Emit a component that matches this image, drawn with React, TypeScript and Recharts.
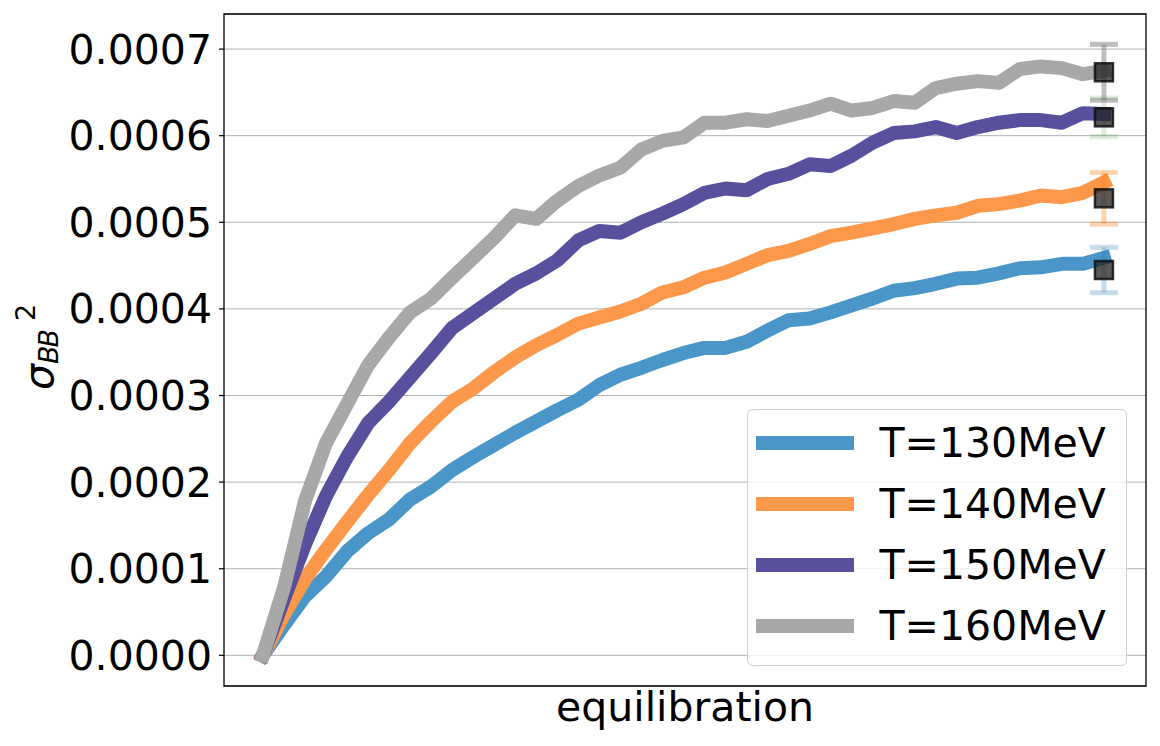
import React from 'react';
import {
  ComposedChart,
  Line,
  Scatter,
  ErrorBar,
  XAxis,
  YAxis,
  CartesianGrid,
  Legend,
  ReferenceArea,
  Label,
} from 'recharts';

// equilibration steps (arbitrary units, no ticks on the axis)
const steps = [
  0, 1, 2, 3, 4, 5, 6, 7, 8, 9, 10, 11, 12, 13, 14, 15, 16, 17, 18, 19, 20,
  21, 22, 23, 24, 25, 26, 27, 28, 29, 30, 31, 32, 33, 34, 35, 36, 37, 38, 39, 40,
];

// sigma_BB^2 in units of 1e-4
const t130 = [
  0, 0.35, 0.68, 0.91, 1.2, 1.41, 1.57, 1.8, 1.95, 2.14, 2.29, 2.43, 2.57, 2.7,
  2.83, 2.95, 3.12, 3.24, 3.32, 3.41, 3.49, 3.55, 3.55, 3.62, 3.75, 3.87, 3.89,
  3.96, 4.04, 4.12, 4.21, 4.24, 4.29, 4.35, 4.36, 4.41, 4.47, 4.48, 4.52, 4.52, 4.59,
];
const t140 = [
  0, 0.47, 0.88, 1.22, 1.54, 1.85, 2.14, 2.45, 2.7, 2.93, 3.08, 3.27, 3.44, 3.58,
  3.7, 3.83, 3.9, 3.97, 4.06, 4.19, 4.25, 4.36, 4.42, 4.52, 4.62, 4.67, 4.75,
  4.84, 4.88, 4.93, 4.98, 5.04, 5.08, 5.11, 5.19, 5.21, 5.25, 5.31, 5.29, 5.34, 5.46,
];
const t150 = [
  0, 0.65, 1.28, 1.84, 2.29, 2.68, 2.93, 3.21, 3.49, 3.78, 3.95, 4.12, 4.29, 4.41,
  4.56, 4.79, 4.9, 4.88, 5.0, 5.1, 5.21, 5.34, 5.39, 5.37, 5.5, 5.56, 5.67, 5.65,
  5.77, 5.92, 6.03, 6.05, 6.1, 6.03, 6.1, 6.15, 6.18, 6.18, 6.15, 6.26, 6.25,
];
const t160 = [
  0, 0.78, 1.78, 2.45, 2.9, 3.35, 3.67, 3.96, 4.12, 4.36, 4.59, 4.82, 5.08, 5.04,
  5.25, 5.42, 5.54, 5.63, 5.84, 5.94, 5.98, 6.15, 6.15, 6.19, 6.17, 6.23, 6.29,
  6.37, 6.29, 6.32, 6.4, 6.38, 6.55, 6.6, 6.63, 6.61, 6.77, 6.8, 6.78, 6.71, 6.75,
];

// final estimates with errors (units of 1e-4)
const finalMeans = [4.449, 5.277, 6.212, 6.732];
const finalErrors = [0.262, 0.298, 0.223, 0.323];

const seriesNames = ['T=130MeV', 'T=140MeV', 'T=150MeV', 'T=160MeV'];
const seriesKeys = ['t130', 't140', 't150', 't160'];
const lineColors = ['#4a96c9', '#fd974a', '#58509d', '#a8a8a8'];
const errorColors = ['#1f77b4', '#ff7f0e', '#2ca02c', '#7f7f7f'];
const errorOpacity = [0.25, 0.33, 0.17, 0.5];

const yTicks = [0, 0.0001, 0.0002, 0.0003, 0.0004, 0.0005, 0.0006, 0.0007];

const SCALE = 1e-4;
const FONT = '"DejaVu Sans", sans-serif';

const chartData = steps.map((s, i) => ({
  step: s,
  t130: t130[i] * SCALE,
  t140: t140[i] * SCALE,
  t150: t150[i] * SCALE,
  t160: t160[i] * SCALE,
}));

const finalData = finalMeans.map((m, i) => [
  { step: steps[steps.length - 1], y: m * SCALE, err: finalErrors[i] * SCALE },
]);

const xDomain = [-1.85, 42.0];
const yDomain = [-0.0000354, 0.0007405];

const SquareMarker = (props: any) => {
  const { cx, cy } = props;
  return (
    <rect
      x={cx - 9}
      y={cy - 9}
      width={18}
      height={18}
      fill="#222"
      fillOpacity={0.75}
      stroke="#111"
      strokeOpacity={0.85}
      strokeWidth={2.5}
    />
  );
};

const LegendBox = () => (
  <div
    style={{
      boxSizing: 'border-box',
      width: 380,
      height: 257,
      border: '1.5px solid #d0d0d0',
      borderRadius: 6,
      background: 'rgba(255,255,255,0.8)',
      paddingTop: 2,
      fontFamily: FONT,
    }}
  >
    {seriesNames.map((name, i) => (
      <div key={name} style={{ height: 61, display: 'flex', alignItems: 'center' }}>
        <div style={{ width: 98, height: 14, marginLeft: 7.5, background: lineColors[i] }} />
        <span style={{ marginLeft: 26, fontSize: 41, color: '#000', lineHeight: 'normal' }}>{name}</span>
      </div>
    ))}
  </div>
);

const YLabel = () => (
  <text
    x={53}
    y={390}
    transform="rotate(-90 53 390)"
    fontFamily={FONT}
    fill="#000"
    textAnchor="start"
  >
    <tspan fontSize={41} fontStyle="italic">σ</tspan>
    <tspan fontSize={27} fontStyle="italic" dy={5} letterSpacing={-2}>BB</tspan>
    <tspan fontSize={27} dy={-23} dx={10}>2</tspan>
  </text>
);

const XLabel = () => (
  <text x={685} y={721} textAnchor="middle" fontFamily={FONT} fontSize={41} fill="#000">
    equilibration
  </text>
);

export default function App() {
  return (
    <div style={{ position: 'absolute', left: 0, top: 0, width: 1160, height: 746, background: '#fff', fontFamily: FONT }}>
      <ComposedChart
        width={1160}
        height={746}
        data={chartData}
        margin={{ top: 14, right: 14, bottom: 0, left: 0 }}
      >
        <CartesianGrid vertical={false} stroke="#b0b0b0" strokeWidth={1} />
        <XAxis
          dataKey="step"
          type="number"
          domain={xDomain}
          allowDataOverflow
          tick={false}
          tickLine={false}
          axisLine={false}
          height={60}
        >
          <Label content={<XLabel />} />
        </XAxis>
        <YAxis
          type="number"
          domain={yDomain}
          allowDataOverflow
          ticks={yTicks}
          tickFormatter={(v: number) => v.toFixed(4)}
          tick={{ fill: '#000', fontSize: 41, fontFamily: FONT }}
          tickLine={{ stroke: '#000', strokeWidth: 1.2 }}
          tickSize={5}
          tickMargin={7}
          axisLine={false}
          width={224}
        >
          <Label content={<YLabel />} />
        </YAxis>
        {seriesKeys.map((key, i) => (
          <Line
            key={key}
            dataKey={key}
            name={seriesNames[i]}
            stroke={lineColors[i]}
            strokeWidth={14}
            strokeLinecap="square"
            strokeLinejoin="round"
            dot={false}
            activeDot={false}
            type="linear"
            isAnimationActive={false}
          />
        ))}
        {finalData.map((d, i) => (
          <Scatter
            key={'final' + i}
            data={d}
            dataKey="y"
            legendType="none"
            shape={<SquareMarker />}
            isAnimationActive={false}
          >
            <ErrorBar
              dataKey="err"
              direction="y"
              width={14}
              stroke={errorColors[i]}
              strokeOpacity={errorOpacity[i]}
              strokeWidth={5}
            />
          </Scatter>
        ))}
        <ReferenceArea
          x1={xDomain[0]}
          x2={xDomain[1]}
          y1={yDomain[0]}
          y2={yDomain[1]}
          fill="none"
          stroke="#000"
          strokeWidth={1.3}
          ifOverflow="visible"
        />
        <Legend
          layout="vertical"
          align="center"
          verticalAlign="middle"
          content={<LegendBox />}
          wrapperStyle={{ left: 747, top: 409, width: 380, height: 257 }}
        />
      </ComposedChart>
    </div>
  );
}
